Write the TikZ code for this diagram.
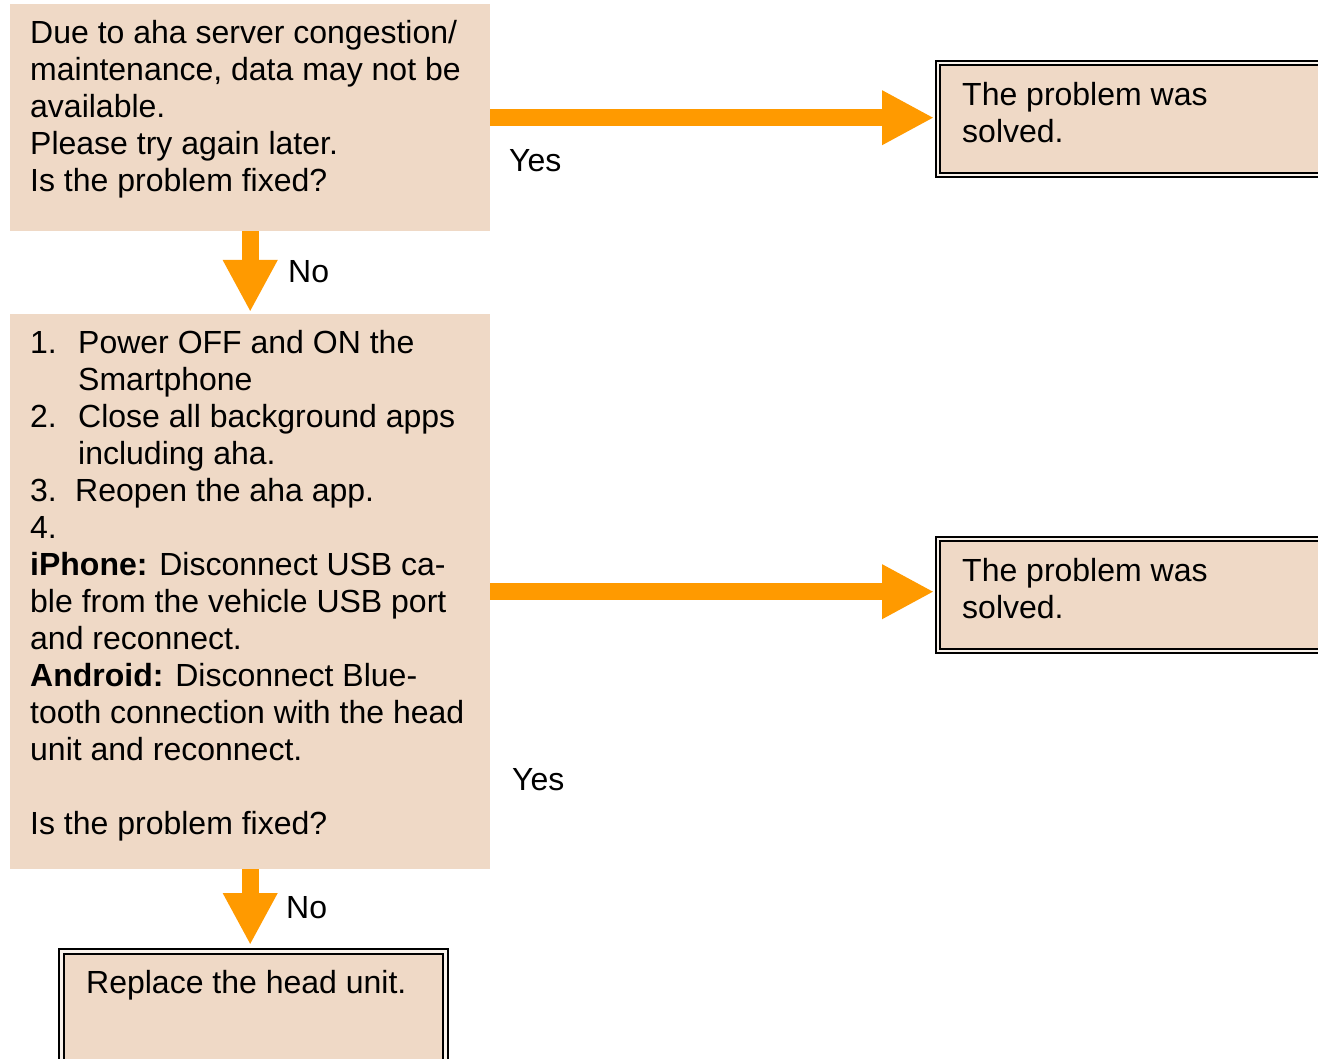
\documentclass[tikz,border=0pt]{standalone}
\usepackage{fontspec}
\setmainfont{Liberation Sans}
\usetikzlibrary{arrows.meta,calc}
\definecolor{boxtan}{RGB}{239,217,198}
\definecolor{arroworange}{RGB}{255,154,0}
\begin{document}
\begin{tikzpicture}[x=1pt,y=-1pt,
  plainbox/.style={rectangle, fill=boxtan, draw=none, anchor=north west, inner sep=0pt},
  dblbox/.style={rectangle, fill=boxtan, draw=black, line width=2pt, double=boxtan!35!white, double distance=2.5pt, anchor=north west, inner sep=0pt},
  txt/.style={font=\fontsize{32}{37}\selectfont, inner sep=0pt, align=left, text=black},
  fatarrow/.style={draw=arroworange, line width=17pt, -{Triangle[length=52pt, width=51pt]}, arroworange},
  lbl/.style={font=\fontsize{32}{37}\selectfont, inner sep=0pt, anchor=base west}
]
\useasboundingbox (0,0) rectangle (1318,1059);
\fill[white] (0,0) rectangle (1318,1059);
\clip (0,0) rectangle (1318,1059);

% boxes
\node[plainbox, minimum width=480pt, minimum height=227pt] (q1) at (10,4) {};
\node[plainbox, minimum width=480pt, minimum height=555pt] (q2) at (10,314) {};
\node[dblbox, minimum width=384pt, minimum height=112pt] (s1) at (937,62) {};
\node[dblbox, minimum width=384pt, minimum height=112pt] (s2) at (937,538) {};
\node[dblbox, minimum width=384pt, minimum height=125pt] (r) at (60.5,950.5) {};

% texts
\node[txt, anchor=north west] (q1t) at (30,19) {\rule{0pt}{24pt}Due to aha server congestion/\\maintenance, data may not be\\available.\\Please try again later.\\Is the problem fixed?};
\node[txt, anchor=north west] (q2t) at (30,329) {\rule{0pt}{24pt}\makebox[48pt][l]{1.}Power OFF and ON the\\\hspace*{48pt}Smartphone\\\makebox[48pt][l]{2.}Close all background apps\\\hspace*{48pt}including aha.\\\makebox[45pt][l]{3.}Reopen the aha app.\\4.\\\textbf{iPhone:} Disconnect USB ca-\\ble from the vehicle USB port\\and reconnect.\\\textbf{Android:} Disconnect Blue-\\tooth connection with the head\\unit and reconnect.\\[37pt]Is the problem fixed?};
\node[txt, anchor=north west] (s1t) at (962,81) {\rule{0pt}{24pt}The problem was\\solved.};
\node[txt, anchor=north west] (s2t) at (962,557) {\rule{0pt}{24pt}The problem was\\solved.};
\node[lbl] (rt) at (86,993) {Replace the head unit.};

% connectors
\draw[fatarrow] (q1.east) -- ($(q1.east -| s1.west)+(-3,0)$);
\draw[fatarrow] (q2.east) -- ($(q2.east -| s2.west)+(-3,0)$);
\draw[fatarrow] (q1.south) -- ($(q2.north)+(0,-2)$);
\draw[fatarrow] (q2.south) -- ($(q2.south |- r.north)+(0,-5.5)$);

% labels
\node[lbl] (y1) at (509,172) {Yes};
\node[lbl] (y2) at (512,790) {Yes};
\node[lbl] (n1) at (288,283) {No};
\node[lbl] (n2) at (286,918) {No};
\end{tikzpicture}
\end{document}
